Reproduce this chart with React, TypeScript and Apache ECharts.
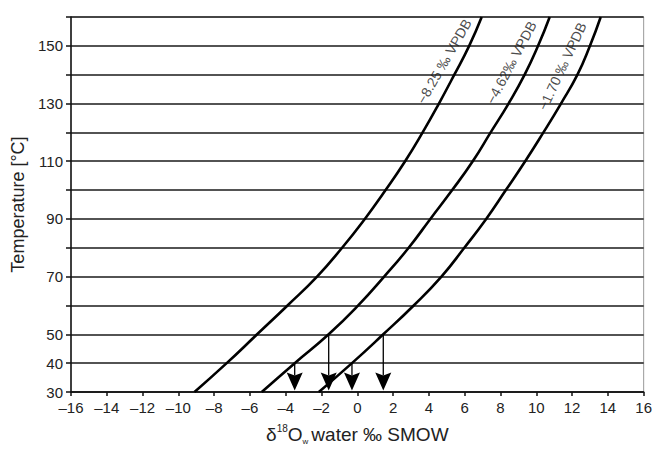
import { useEffect, useRef } from 'react';
import * as echarts from 'echarts';

// ---- data ----
const temperatures = [30, 40, 50, 60, 70, 80, 90, 100, 110, 120, 130, 140, 150, 160];
const curveNames = ['−8.25 ‰ VPDB', '−4.62‰ VPDB', '−1.70 ‰ VPDB'];
const curveA = [-9.1, -7.3, -5.6, -3.9, -2.25, -0.85, 0.42, 1.58, 2.67, 3.65, 4.56, 5.42, 6.25, 6.95];
const curveB = [-5.34, -3.5, -1.6, 0.05, 1.5, 2.87, 4.08, 5.3, 6.45, 7.45, 8.45, 9.35, 10.1, 10.75];
const curveC = [-2.15, -0.3, 1.45, 3.15, 4.7, 5.98, 7.2, 8.3, 9.38, 10.4, 11.38, 12.3, 13.0, 13.6];
const yTickLabels = [30, 40, 50, 70, 90, 110, 130, 150];
// arrows: from curve (index) at temperature down to the axis
const arrowCurve = [1, 1, 2, 2];
const arrowTemp = [40, 50, 40, 50];
const arrowEnd = 30.5;

// ---- layout of the rotated curve labels (data coords + rotation) ----
const labelX = [4.85, 8.6, 11.45];
const labelY = [144.6, 144.2, 142.9];
const labelRot = [60, 62, 65];

const FONT = '"Liberation Sans", Arial, sans-serif';

export default function App() {
  const ref = useRef<HTMLDivElement>(null);
  useEffect(() => {
    if (!ref.current) return;
    const chart = echarts.init(ref.current, undefined, { renderer: 'svg' });
    const curves = [curveA, curveB, curveC];
    const arrowData = arrowCurve.map((c, i) => {
      const idx = temperatures.indexOf(arrowTemp[i]);
      return [curves[c][idx], arrowTemp[i], arrowEnd];
    });
    chart.setOption({
      animation: false,
      textStyle: { fontFamily: FONT },
      grid: { left: 71, right: 9, top: 17, bottom: 57, show: true, borderColor: '#999', borderWidth: 1 },
      xAxis: {
        type: 'value',
        min: -16,
        max: 16,
        interval: 2,
        name: '{a|δ}{sup|18}{a|O}{sub|w}{a|water ‰ SMOW}',
        nameLocation: 'middle',
        nameGap: 31,
        nameTextStyle: {
          color: '#222',
          rich: {
            a: { fontSize: 19, lineHeight: 22, color: '#222', fontFamily: FONT },
            sup: { fontSize: 10, lineHeight: 22, verticalAlign: 'top', color: '#222', fontFamily: FONT, padding: [0, 0, 9, 0] },
            sub: { fontSize: 8, lineHeight: 22, verticalAlign: 'bottom', color: '#222', fontFamily: FONT, padding: [9, 3, 0, 0] },
          },
        },
        axisLine: { show: true, onZero: false, lineStyle: { color: '#111', width: 1.5 } },
        axisTick: { show: true, length: 4, lineStyle: { color: '#111', width: 1.5 } },
        axisLabel: {
          color: '#222',
          fontSize: 15,
          margin: 8,
          formatter: (v: number) => (v < 0 ? '\u2013' + Math.abs(v) : String(v)),
        },
        splitLine: { show: false },
      },
      yAxis: {
        type: 'value',
        min: 30,
        max: 160,
        interval: 10,
        name: 'Temperature [°C]',
        nameLocation: 'middle',
        nameGap: 38,
        nameTextStyle: { color: '#222', fontSize: 18, fontFamily: FONT },
        axisLine: { show: true, onZero: false, lineStyle: { color: '#111', width: 1.5 } },
        axisTick: { show: true, length: 5, lineStyle: { color: '#111', width: 1.5 } },
        axisLabel: {
          color: '#222',
          fontSize: 15,
          margin: 8,
          formatter: (v: number) => (yTickLabels.includes(v) ? String(v) : ''),
        },
        splitLine: { show: true, lineStyle: { color: '#1a1a1a', width: 1.5 } },
      },
      series: [
        ...curves.map((c, i) => ({
          type: 'line',
          name: curveNames[i],
          data: c.map((x, j) => [x, temperatures[j]]),
          smooth: 0.5,
          showSymbol: false,
          symbol: 'none',
          lineStyle: { color: '#000', width: 2.6 },
          silent: true,
          z: 3,
        })),
        {
          type: 'scatter',
          symbolSize: 0,
          silent: true,
          data: labelX.map((x, i) => ({
            value: [x, labelY[i]],
            label: {
              show: true,
              position: 'inside',
              formatter: curveNames[i],
              rotate: labelRot[i],
              color: '#1a1a1a',
              fontSize: 14,
              fontFamily: FONT,
            },
          })),
          z: 4,
        },
        {
          type: 'custom',
          silent: true,
          data: arrowData,
          z: 5,
          renderItem: (_params: any, api: any) => {
            const p0 = api.coord([api.value(0), api.value(1)]);
            const p1 = api.coord([api.value(0), api.value(2)]);
            const hx = 8;
            const hh = 18;
            return {
              type: 'group',
              children: [
                {
                  type: 'line',
                  shape: { x1: p0[0], y1: p0[1], x2: p1[0], y2: p1[1] - hh + 3 },
                  style: { stroke: '#000', lineWidth: 1.3 },
                },
                {
                  type: 'polygon',
                  shape: {
                    points: [
                      [p1[0] - hx, p1[1] - hh],
                      [p1[0], p1[1] - hh + 3],
                      [p1[0] + hx, p1[1] - hh],
                      [p1[0], p1[1]],
                    ],
                  },
                  style: { fill: '#000' },
                },
              ],
            };
          },
        },
      ],
    });
    return () => chart.dispose();
  }, []);
  return <div ref={ref} style={{ width: 655, height: 450, position: 'absolute', left: 0, top: 0 }} />;
}
